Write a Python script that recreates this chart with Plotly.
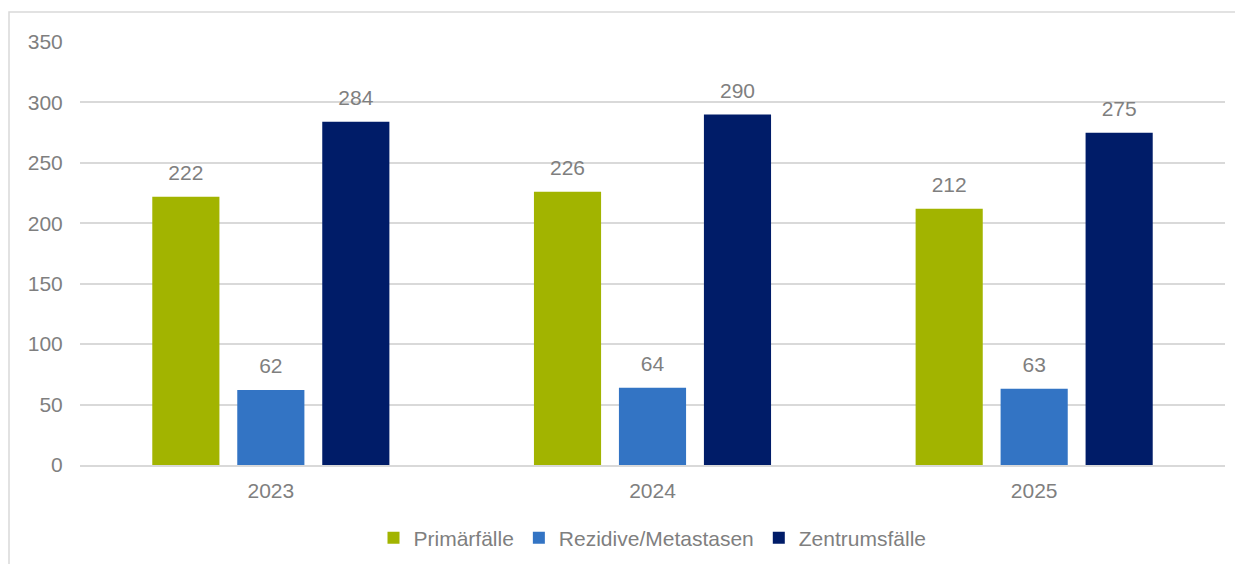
import plotly.graph_objects as go

years = ["2023", "2024", "2025"]
series_names = ["Primärfälle", "Rezidive/Metastasen", "Zentrumsfälle"]
primaer = [222, 226, 212]
rezidive = [62, 64, 63]
zentrum = [284, 290, 275]
y_ticks = [0, 50, 100, 150, 200, 250, 300, 350]

colors = ["#A2B400", "#3374C4", "#001C68"]
values = [primaer, rezidive, zentrum]
FONT = "Liberation Sans, Arial, sans-serif"
GRAY = "#7F7F7F"

# page body has an 8px margin; figure origin sits at page (8, 8)
W, H = 1235, 556
ML, MR, MT, MB = 72, 18, 34, 99
pw, ph = W - ML - MR, H - MT - MB

fig = go.Figure()
for name, vals, col in zip(series_names, values, colors):
    fig.add_trace(go.Bar(
        x=years, y=vals, name=name, marker=dict(color=col, line=dict(width=0)),
        offsetgroup=name, alignmentgroup="g",
    ))
for name, vals in zip(series_names, values):
    fig.add_trace(go.Scatter(
        x=years, y=vals, mode="markers+text", text=[str(v) for v in vals],
        textposition="top center", textfont=dict(size=21, color=GRAY, family=FONT),
        marker=dict(size=17, opacity=0), showlegend=False, hoverinfo="skip",
        offsetgroup=name, alignmentgroup="g", cliponaxis=False,
    ))

fig.update_layout(
    width=W, height=H,
    margin=dict(l=ML, r=MR, t=MT, b=MB, autoexpand=False),
    paper_bgcolor="white", plot_bgcolor="white",
    barmode="group", scattermode="group",
    bargap=0.332, bargroupgap=0.21, scattergap=0.332,
    font=dict(family=FONT, size=21, color=GRAY),
    showlegend=True,
    legend=dict(orientation="h", x=0.5, xanchor="center",
                yref="container", y=1 - 530 / H,
                yanchor="middle", font=dict(size=21, color=GRAY, family=FONT),
                itemwidth=30, tracegroupgap=0, itemclick=False),
    xaxis=dict(type="category", showgrid=False, showline=True, linecolor="#D9D9D9",
               linewidth=1.5, ticks="outside", ticklen=6, tickcolor="rgba(0,0,0,0)",
               tickfont=dict(size=21, color=GRAY, family=FONT), zeroline=False),
    yaxis=dict(range=[0, 350], tickvals=y_ticks, showgrid=True, gridcolor="#D9D9D9",
               gridwidth=1.5, zeroline=False, showline=False, ticks="outside", ticklen=12,
               tickcolor="rgba(0,0,0,0)", tickfont=dict(size=21, color=GRAY, family=FONT)),
    shapes=[dict(type="rect", xref="paper", yref="paper",
                 x0=(1 - ML) / pw, x1=(W + 20 - ML) / pw,
                 y0=-(H + 20 - (MT + ph)) / ph, y1=1 + (MT - 4) / ph,
                 line=dict(color="#D9D9D9", width=1.5), fillcolor="rgba(0,0,0,0)",
                 layer="below")],
)

fig.write_html("out.html")
